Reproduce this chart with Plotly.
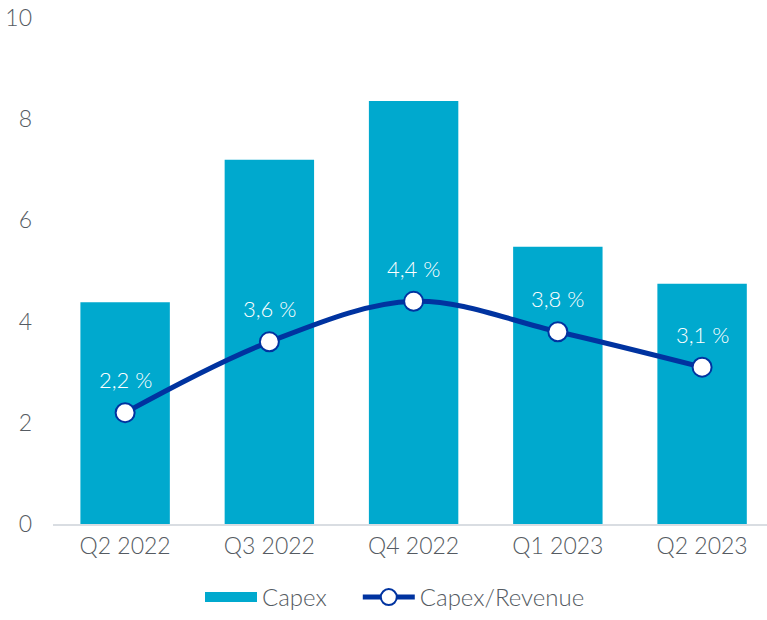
import plotly.graph_objects as go

categories = ["Q2 2022", "Q3 2022", "Q4 2022", "Q1 2023", "Q2 2023"]
capex = [4.38, 7.2, 8.36, 5.48, 4.75]
capex_rev = [2.2, 3.6, 4.4, 3.8, 3.1]
capex_rev_labels = ["2,2 %", "3,6 %", "4,4 %", "3,8 %", "3,1 %"]
y_ticks = [0, 2, 4, 6, 8, 10]

FONT = "Lato"
GREY = "#555b62"
BAR = "#00a9ce"
LINE = "#0033a0"
FS = 23

fig = go.Figure()
fig.add_trace(go.Bar(
    x=categories, y=capex, name="Capex", showlegend=False,
    marker=dict(color=BAR, line=dict(width=0)),
))
# legend entry for bars drawn as a wide rectangle
fig.add_trace(go.Scatter(
    x=[None], y=[None], name="Capex" + "\u00a0" * 4, mode="lines",
    line=dict(color=BAR, width=14),
))
fig.add_trace(go.Scatter(
    x=categories, y=capex_rev, name="Capex/Revenue",
    mode="lines+markers",
    line=dict(color=LINE, width=5, shape="spline", smoothing=1.0),
    marker=dict(size=19, color="white", line=dict(color=LINE, width=2)),
))

for c, v, t in zip(categories, capex_rev, capex_rev_labels):
    fig.add_annotation(x=c, y=v, text=t, showarrow=False, yshift=33,
                       font=dict(family=FONT, size=22, color="white", weight=300))

fig.update_layout(
    width=767, height=620,
    margin=dict(l=53, r=0, t=18, b=95),
    paper_bgcolor="white", plot_bgcolor="white",
    font=dict(family=FONT, size=FS, color=GREY, weight=300),
    bargap=0.38,
    showlegend=True,
    legend=dict(orientation="h", x=0.479, xanchor="center", y=-0.1, yanchor="top",
                itemwidth=52,
                font=dict(family=FONT, size=24, color=GREY, weight=300), traceorder="normal"),
    xaxis=dict(range=[-0.5, 4.45], showgrid=False, showline=True,
               linecolor="#d9dde2", linewidth=2, ticks="",
               tickfont=dict(size=FS, color=GREY, weight=300)),
    yaxis=dict(range=[0, 10], tickvals=y_ticks, showgrid=False, zeroline=False,
               showline=False, ticks="", ticklabelstandoff=20,
               tickfont=dict(size=FS, color=GREY, weight=300)),
)

fig.write_html("out.html", config={"displayModeBar": False},
               post_script="document.body.style.margin='0';")
